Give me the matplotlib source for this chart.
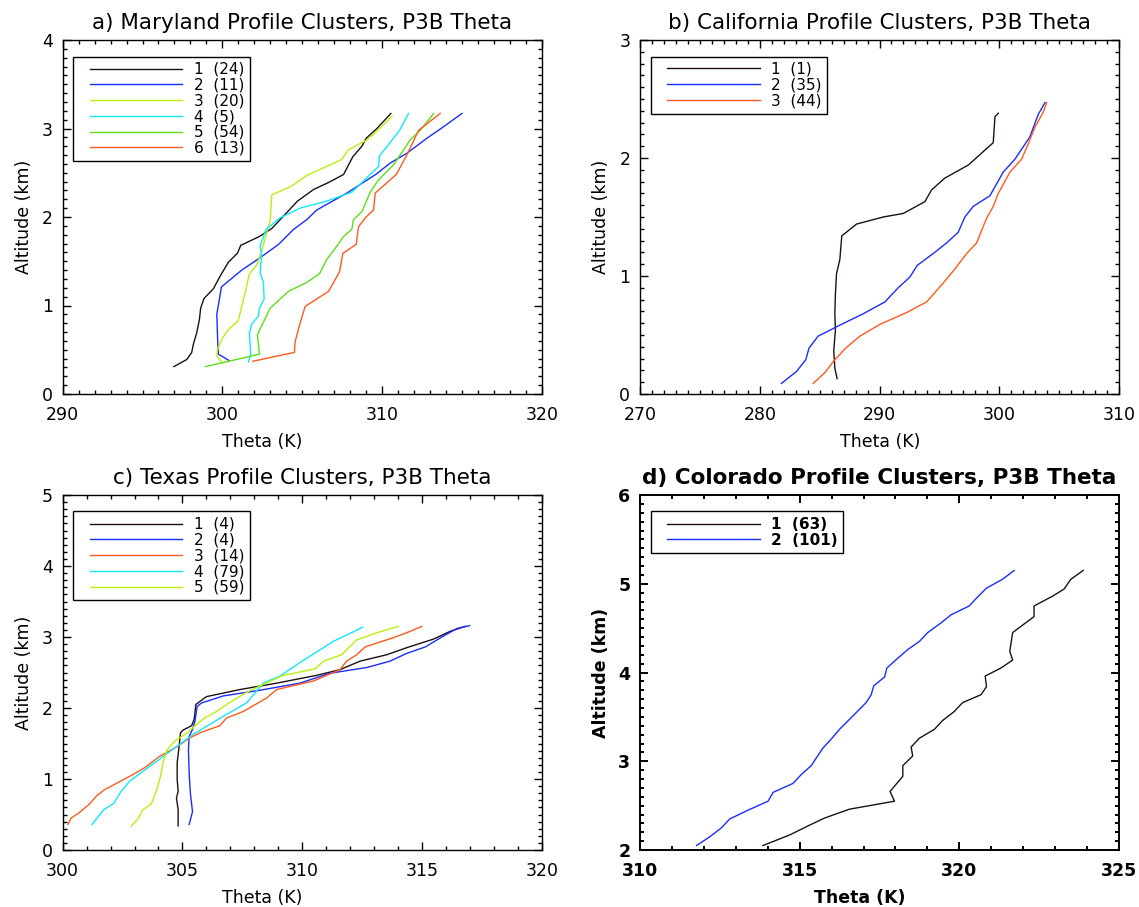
import numpy as np
import matplotlib
matplotlib.use("Agg")
import matplotlib.pyplot as plt
from matplotlib.lines import Line2D
from matplotlib.legend_handler import HandlerLine2D
from matplotlib.ticker import MultipleLocator

BLACK = "#1c1014"
BLUE = "#1a2cff"
YGREEN = "#b8f010"
CYAN = "#10e8ff"
GREEN = "#5fdc1a"
ORANGE = "#ff5a1f"

# ---- a) Maryland ----
md_labels = ["1  (24)", "2  (11)", "3  (20)", "4  (5)", "5  (54)", "6  (13)"]
md_colors = [BLACK, BLUE, YGREEN, CYAN, GREEN, ORANGE]
md1_t = [296.97, 297.77, 298.08, 298.18, 298.39, 298.56, 298.64, 298.85, 299.44, 299.85, 300.38, 300.94, 301.15,
         302.32, 303.09, 304.03, 304.70, 305.70, 306.64, 307.58, 308.16, 308.73, 309.00, 309.67, 310.54]
md1_z = [0.31, 0.39, 0.47, 0.56, 0.69, 0.84, 0.97, 1.08, 1.19, 1.33, 1.49, 1.59, 1.68,
         1.78, 1.87, 2.05, 2.18, 2.31, 2.39, 2.48, 2.68, 2.80, 2.89, 3.00, 3.17]
md2_t = [300.40, 299.75, 299.71, 299.65, 299.94, 301.21, 302.36, 303.51, 304.45, 305.28, 305.91, 307.79, 309.67,
         310.50, 311.54, 312.80, 313.84, 314.99]
md2_z = [0.38, 0.45, 0.58, 0.90, 1.21, 1.40, 1.54, 1.69, 1.86, 1.97, 2.08, 2.27, 2.49,
         2.61, 2.72, 2.89, 3.02, 3.17]
md3_t = [300.00, 299.65, 299.69, 299.96, 300.38, 301.00, 301.21, 301.52, 301.67, 302.15, 302.36, 302.61, 302.88,
         302.99, 303.09, 304.34, 305.28, 307.47, 307.89, 309.04, 309.67, 310.29, 310.61]
md3_z = [0.35, 0.43, 0.50, 0.62, 0.73, 0.83, 0.99, 1.22, 1.35, 1.46, 1.56, 1.71, 1.89,
         1.97, 2.25, 2.35, 2.47, 2.65, 2.76, 2.87, 2.97, 3.08, 3.14]
md4_t = [301.63, 301.77, 301.69, 301.84, 302.25, 302.32, 302.61, 302.57, 302.36, 302.46, 302.36, 302.73, 303.61,
         304.86, 306.53, 308.10, 309.77, 309.83, 310.40, 311.09, 311.65]
md4_z = [0.36, 0.45, 0.69, 0.79, 0.88, 0.97, 1.07, 1.26, 1.37, 1.56, 1.67, 1.86, 1.99,
         2.10, 2.18, 2.28, 2.57, 2.69, 2.82, 2.98, 3.17]
md5_t = [298.96, 302.32, 302.19, 302.99, 304.13, 305.28, 306.08, 306.53, 307.16, 307.58, 308.10, 308.20, 308.73,
         309.25, 309.77, 310.71, 311.75, 312.38, 313.01, 313.22]
md5_z = [0.31, 0.45, 0.67, 0.97, 1.16, 1.26, 1.36, 1.52, 1.67, 1.78, 1.86, 1.97, 2.06,
         2.28, 2.42, 2.59, 2.87, 2.98, 3.12, 3.17]
md6_t = [301.90, 304.51, 304.55, 304.86, 305.18, 306.64, 307.33, 307.54, 308.37, 308.52, 308.94, 309.46, 309.56,
         310.88, 311.54, 312.28, 313.63]
md6_z = [0.37, 0.47, 0.59, 0.80, 0.99, 1.16, 1.38, 1.59, 1.69, 1.89, 1.99, 2.08, 2.27,
         2.48, 2.70, 2.98, 3.17]

# ---- b) California ----
ca_labels = ["1  (1)", "2  (35)", "3  (44)"]
ca_colors = [BLACK, BLUE, ORANGE]
ca1_t = [286.46, 286.27, 286.18, 286.32, 286.27, 286.32, 286.41, 286.69, 286.85, 288.08, 290.31, 291.98, 293.79,
         294.35, 295.46, 297.41, 299.50, 299.64, 299.92]
ca1_z = [0.13, 0.22, 0.37, 0.54, 0.68, 0.85, 1.02, 1.14, 1.34, 1.44, 1.50, 1.53, 1.63,
         1.73, 1.83, 1.94, 2.13, 2.35, 2.38]
ca2_t = [281.81, 283.06, 283.84, 284.12, 284.87, 286.82, 288.64, 290.45, 291.56, 292.53, 293.15, 294.48, 295.60,
         296.57, 297.13, 297.83, 299.22, 300.33, 301.31, 302.56, 303.26, 303.82]
ca2_z = [0.09, 0.19, 0.29, 0.39, 0.49, 0.59, 0.68, 0.78, 0.90, 0.99, 1.09, 1.19, 1.28,
         1.37, 1.50, 1.59, 1.68, 1.88, 1.99, 2.18, 2.37, 2.47]
ca3_t = [284.46, 285.43, 286.18, 287.19, 288.36, 290.03, 292.26, 293.93, 295.32, 296.30, 297.27, 298.11, 298.94,
         299.50, 299.92, 300.89, 301.87, 302.42, 302.98, 303.68, 303.96]
ca3_z = [0.09, 0.18, 0.28, 0.39, 0.49, 0.59, 0.69, 0.78, 0.94, 1.06, 1.19, 1.28, 1.49,
         1.59, 1.70, 1.88, 1.99, 2.12, 2.26, 2.39, 2.47]

# ---- c) Texas ----
tx_labels = ["1  (4)", "2  (4)", "3  (14)", "4  (79)", "5  (59)"]
tx_colors = [BLACK, BLUE, ORANGE, CYAN, YGREEN]
tx1_t = [304.82, 304.82, 304.75, 304.82, 304.78, 304.78, 304.86, 304.92, 305.03, 305.38, 305.49, 305.56, 306.00,
         307.40, 308.93, 310.60, 311.57, 312.41, 313.52, 314.36, 315.47, 316.17, 316.80]
tx1_z = [0.34, 0.57, 0.73, 0.83, 0.99, 1.23, 1.46, 1.65, 1.69, 1.75, 1.84, 2.05, 2.16,
         2.26, 2.35, 2.46, 2.54, 2.66, 2.75, 2.85, 2.97, 3.08, 3.15]
tx2_t = [305.28, 305.42, 305.33, 305.28, 305.25, 305.28, 305.42, 305.52, 305.61, 305.79, 306.70, 308.23, 309.90,
         311.16, 312.69, 313.66, 314.36, 315.13, 315.82, 316.45, 316.98]
tx2_z = [0.36, 0.54, 0.80, 1.08, 1.41, 1.60, 1.70, 1.81, 2.02, 2.07, 2.17, 2.25, 2.35,
         2.49, 2.57, 2.66, 2.77, 2.86, 3.00, 3.12, 3.16]
tx3_t = [300.22, 300.36, 300.71, 301.13, 301.41, 301.75, 302.31, 302.87, 303.43, 304.05, 304.75, 305.31, 305.79,
         306.56, 306.84, 307.53, 308.51, 308.93, 310.46, 311.57, 311.85, 312.27, 312.62, 313.25, 313.80, 314.36, 314.99]
tx3_z = [0.36, 0.45, 0.53, 0.65, 0.76, 0.85, 0.95, 1.05, 1.16, 1.32, 1.45, 1.58, 1.66,
         1.75, 1.86, 1.95, 2.14, 2.26, 2.38, 2.54, 2.66, 2.75, 2.86, 2.93, 2.99, 3.06, 3.15]
tx4_t = [301.23, 301.69, 302.14, 302.45, 302.80, 303.36, 304.05, 304.61, 305.45, 306.14, 306.84, 307.67, 308.37,
         309.07, 309.90, 310.74, 311.30, 311.99, 312.52]
tx4_z = [0.36, 0.56, 0.66, 0.83, 0.97, 1.11, 1.28, 1.42, 1.63, 1.77, 1.91, 2.07, 2.35,
         2.45, 2.64, 2.82, 2.94, 3.05, 3.14]
tx5_t = [302.87, 303.15, 303.33, 303.70, 303.89, 304.05, 304.19, 304.33, 304.47, 304.78, 305.17, 305.59, 305.93,
         306.42, 306.84, 307.67, 308.23, 309.21, 310.53, 310.88, 311.64, 312.27, 313.11, 314.01]
tx5_z = [0.34, 0.44, 0.56, 0.65, 0.81, 0.99, 1.23, 1.39, 1.46, 1.56, 1.64, 1.77, 1.86,
         1.95, 2.05, 2.22, 2.31, 2.46, 2.55, 2.66, 2.75, 2.96, 3.06, 3.15]

# ---- d) Colorado ----
co_labels = ["1  (63)", "2  (101)"]
co_colors = [BLACK, BLUE]
co1_t = [313.85, 314.69, 315.31, 315.78, 316.56, 317.97, 317.83, 318.23, 318.23, 318.54, 318.49, 318.75, 319.22,
         319.48, 319.84, 320.10, 320.68, 320.85, 320.81, 321.30, 321.67, 321.58, 321.67, 322.34, 322.34, 322.92,
         323.28, 323.49, 323.88]
co1_z = [2.05, 2.17, 2.28, 2.36, 2.46, 2.55, 2.66, 2.83, 2.95, 3.06, 3.16, 3.26, 3.36,
         3.46, 3.56, 3.66, 3.75, 3.84, 3.96, 4.05, 4.14, 4.24, 4.45, 4.63, 4.75, 4.86,
         4.94, 5.05, 5.15]
co2_t = [311.77, 312.19, 312.55, 312.81, 313.39, 314.01, 314.17, 314.79, 315.05, 315.36, 315.73, 315.99, 316.25,
         316.72, 317.08, 317.24, 317.32, 317.66, 317.73, 318.07, 318.39, 318.75, 319.01, 319.43, 319.74, 320.31,
         320.57, 320.85, 321.35, 321.72]
co2_z = [2.05, 2.15, 2.25, 2.35, 2.45, 2.55, 2.65, 2.75, 2.85, 2.95, 3.15, 3.25, 3.36,
         3.53, 3.66, 3.75, 3.85, 3.95, 4.05, 4.16, 4.26, 4.35, 4.45, 4.56, 4.65, 4.75,
         4.85, 4.95, 5.05, 5.15]

panels = [
    dict(title="a) Maryland Profile Clusters, P3B Theta",
         curves=[(md1_t, md1_z), (md2_t, md2_z), (md3_t, md3_z), (md4_t, md4_z), (md5_t, md5_z), (md6_t, md6_z)],
         labels=md_labels, colors=md_colors, xlim=(290, 320), ylim=(0, 4), xmaj=10,
         rect=[62.6, 40, 542, 394], xlab_x=262, bold=False),
    dict(title="b) California Profile Clusters, P3B Theta",
         curves=[(ca1_t, ca1_z), (ca2_t, ca2_z), (ca3_t, ca3_z)],
         labels=ca_labels, colors=ca_colors, xlim=(270, 310), ylim=(0, 3), xmaj=10,
         rect=[640, 40, 1119, 394], xlab_x=880, bold=False),
    dict(title="c) Texas Profile Clusters, P3B Theta",
         curves=[(tx1_t, tx1_z), (tx2_t, tx2_z), (tx3_t, tx3_z), (tx4_t, tx4_z), (tx5_t, tx5_z)],
         labels=tx_labels, colors=tx_colors, xlim=(300, 320), ylim=(0, 5), xmaj=5,
         rect=[62.6, 495, 542, 850], xlab_x=262, bold=False),
    dict(title="d) Colorado Profile Clusters, P3B Theta",
         curves=[(co1_t, co1_z), (co2_t, co2_z)],
         labels=co_labels, colors=co_colors, xlim=(310, 325), ylim=(2, 6), xmaj=5,
         rect=[640, 495, 1119, 850], xlab_x=860, bold=True),
]

W, H = 1139, 907
fig = plt.figure(figsize=(W / 100, H / 100), dpi=100)
plt.rcParams['font.family'] = ['DejaVu Sans']

for p in panels:
    x0, y0, x1, y1 = p["rect"]
    ax = fig.add_axes([x0 / W, 1 - y1 / H, (x1 - x0) / W, (y1 - y0) / H])
    wt = "bold" if p["bold"] else "normal"
    lw_frame = 1.4 if p["bold"] else 1.0
    for (t, z), c, lab in zip(p["curves"], p["colors"], p["labels"]):
        ax.plot(t, z, color=c, lw=1.0, label=lab)
    ax.set_xlim(*p["xlim"])
    ax.set_ylim(*p["ylim"])
    ax.xaxis.set_major_locator(MultipleLocator(p["xmaj"]))
    ax.xaxis.set_minor_locator(MultipleLocator(1))
    ax.yaxis.set_major_locator(MultipleLocator(1))
    ax.yaxis.set_minor_locator(MultipleLocator(0.1))
    ax.tick_params(which="both", direction="in", top=True, right=True, width=lw_frame)
    ax.tick_params(which="major", length=6)
    ax.tick_params(which="minor", length=3)
    ax.tick_params(axis="x", pad=9, labelsize=12.5)
    ax.tick_params(axis="y", pad=7, labelsize=12.5)
    for lbl in ax.get_xticklabels() + ax.get_yticklabels():
        lbl.set_fontweight(wt)
    for s in ax.spines.values():
        s.set_linewidth(lw_frame)
    ax.set_title(p["title"], fontsize=15.5, pad=8, fontweight=wt)
    ax.set_xlabel("Theta (K)", fontsize=12.5, fontweight=wt)
    ax.set_ylabel("Altitude (km)", fontsize=12.5, fontweight=wt)
    axw, axh = x1 - x0, y1 - y0
    ax.xaxis.set_label_coords((p["xlab_x"] - x0) / axw, -39 / axh)
    ax.yaxis.set_label_coords(-30 / axw, 0.5)
    leg = ax.legend(loc="upper left", bbox_to_anchor=(10.5 / axw, 1 - 16.5 / axh), borderaxespad=0,
                    labelspacing=0.05, borderpad=0.35, handlelength=6.8,
                    handletextpad=0.75, fancybox=False, framealpha=1, edgecolor="black",
                    handler_map={Line2D: HandlerLine2D(xpad=0.75)},
                    prop={"size": 11, "weight": wt})
    leg.get_frame().set_linewidth(1.0)

fig.savefig("out.png", dpi=100)
